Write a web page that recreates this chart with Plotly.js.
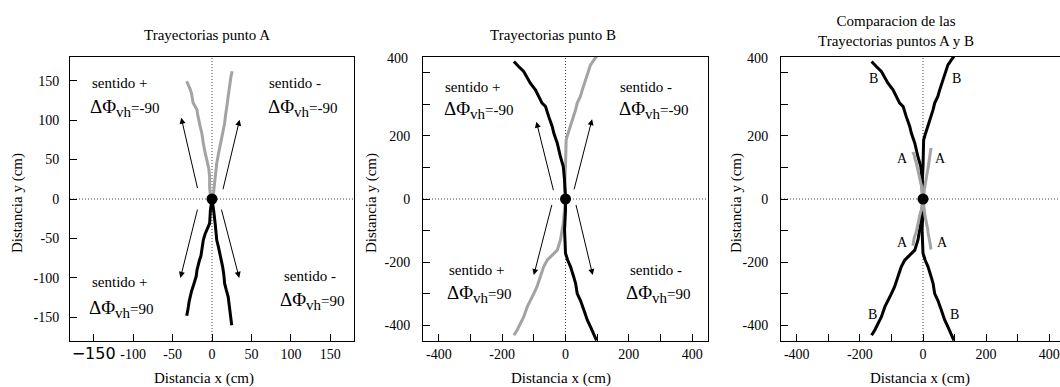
<!DOCTYPE html>
<html>
<head>
<meta charset="utf-8">
<script src="https://cdn.plot.ly/plotly-3.0.1.min.js"></script>
<style>
html, body { margin: 0; padding: 0; overflow: hidden; background: #fff; }
#chart { width: 1066px; height: 387px; }
</style>
</head>
<body>
<div id="chart"></div>
<script>
// ---------- Data: trajectories of point A (cm) ----------
const A_plusNeg90_x  = [0, -2, -3, -3, -4, -7, -9, -11, -12, -13, -15, -17, -18, -19, -22, -24, -25, -26, -28, -31, -32];
const A_plusNeg90_y  = [0, 4, 15, 28, 38, 50, 60, 71, 78, 84, 92, 100, 106, 113, 118, 122, 128, 134, 140, 146, 149];
const A_minusNeg90_x = [0, 2, 3, 4, 5, 6, 8, 10, 12, 13.5, 15, 16, 17, 18.5, 19.5, 20.5, 21.5, 22.5, 24, 25.5];
const A_minusNeg90_y = [0, 7, 18, 28, 36, 45, 56, 66, 76, 84, 90, 96, 105, 113, 122, 130, 139, 147, 155, 162];
const A_plus90_x     = [0, -1, -2, -3, -5, -7, -9, -11, -12, -13, -14, -16, -18, -19, -20, -22, -24, -26, -28, -29, -30, -31, -32];
const A_plus90_y     = [0, -6, -14, -31, -36, -39, -45, -52, -58, -65, -72, -78, -84, -90, -98, -106, -111, -117, -124, -130, -137, -142, -148];
const A_minus90_x    = [0, 1, 2, 4, 5, 6, 8, 10, 12, 13.5, 15, 16, 18, 20.5, 21.5, 22.5, 24, 25];
const A_minus90_y    = [0, -6, -14, -31, -42, -52, -60, -69, -78, -86, -96, -107, -115, -124, -132, -141, -150, -160];

// ---------- Data: trajectories of point B (cm) ----------
const B_plusNeg90_x  = [0, 0, -3, -7, -16, -26, -37, -42, -53, -63, -74, -84, -95, -111, -121, -132, -148, -163];
const B_plusNeg90_y  = [0, 7, 60, 103, 134, 177, 209, 230, 261, 293, 304, 325, 346, 367, 383, 404, 420, 436];
const B_minusNeg90_x = [0, -3, 0, 2, 5, 16, 21, 32, 37, 47, 53, 63, 69, 79, 90, 98];
const B_minusNeg90_y = [0, 39, 103, 187, 198, 230, 251, 283, 304, 325, 346, 378, 399, 425, 441, 452];
const B_plus90_x     = [0, -3, -7, -16, -26, -42, -58, -69, -79, -90, -100, -111, -121, -132, -142, -153, -163];
const B_plus90_y     = [0, -35, -77, -130, -162, -178, -194, -215, -247, -278, -300, -321, -342, -374, -395, -416, -432];
const B_minus90_x    = [0, 0, -3, 0, 7, 16, 26, 32, 37, 47, 58, 69, 79, 90, 98];
const B_minus90_y    = [0, -35, -98, -172, -194, -215, -247, -268, -300, -321, -352, -384, -405, -427, -448];

// ---------- Origin ----------
const originX = [0];
const originY = [0];

// ---------- Tick values / labels ----------
const ticksA = [-150, -100, -50, 0, 50, 100, 150];
const tickTextAx = ["<span style='font-family:DejaVu Sans;font-size:16px'>\u2212150</span>", "-100", "-50", "0", "50", "100", "150"];
const tickTextAy = ["-150", "-100", "-50", "0", "50", "100", "150"];
const ticksB = [-400, -300, -200, -100, 0, 100, 200, 300, 400];
const tickTextBx = ["-400", "", "-200", "", "0", "", "200", "", "400"];
const tickTextBy = ["-400", "", "-200", "", "0", "", "200", "", ""];
const topLabelB = "400";

// ---------- Texts ----------
const titles = ["Trayectorias punto A", "Trayectorias punto B", "Comparacion de las<br>Trayectorias puntos A y B"];
const xTitle = "Distancia x (cm)";
const yTitle = "Distancia y (cm)";
const sentidoPlus = "sentido +";
const sentidoMinus = "sentido -";
const phiNeg = "\u0394\u03a6<sub><span style='font-size:15px'>vh</span></sub><span style='font-size:15px'>=-90</span>";
const phiPos = "\u0394\u03a6<sub><span style='font-size:15px'>vh</span></sub><span style='font-size:15px'>=90</span>";

const GRAY = '#a3a3a3';
const BLACK = '#000000';
const FONT = 'Liberation Serif, Times New Roman, serif';
const W = 1066, H = 387;

function line(x, y, color, xa, ya) {
  return {x: x, y: y, type: 'scatter', mode: 'lines', xaxis: xa, yaxis: ya,
          line: {color: color, width: 3}, hoverinfo: 'skip', showlegend: false};
}
function dot(xa, ya) {
  return {x: originX, y: originY, type: 'scatter', mode: 'markers', xaxis: xa, yaxis: ya,
          marker: {color: BLACK, size: 11}, hoverinfo: 'skip', showlegend: false};
}

const traces = [
  // panel 1
  line(A_plusNeg90_x, A_plusNeg90_y, GRAY, 'x', 'y'),
  line(A_minusNeg90_x, A_minusNeg90_y, GRAY, 'x', 'y'),
  line(A_plus90_x, A_plus90_y, BLACK, 'x', 'y'),
  line(A_minus90_x, A_minus90_y, BLACK, 'x', 'y'),
  dot('x', 'y'),
  // panel 2
  line(B_minusNeg90_x, B_minusNeg90_y, GRAY, 'x2', 'y2'),
  line(B_plus90_x, B_plus90_y, GRAY, 'x2', 'y2'),
  line(B_plusNeg90_x, B_plusNeg90_y, BLACK, 'x2', 'y2'),
  line(B_minus90_x, B_minus90_y, BLACK, 'x2', 'y2'),
  dot('x2', 'y2'),
  // panel 3
  line(B_plusNeg90_x, B_plusNeg90_y, BLACK, 'x3', 'y3'),
  line(B_minusNeg90_x, B_minusNeg90_y, BLACK, 'x3', 'y3'),
  line(B_plus90_x, B_plus90_y, BLACK, 'x3', 'y3'),
  line(B_minus90_x, B_minus90_y, BLACK, 'x3', 'y3'),
  line(A_plusNeg90_x, A_plusNeg90_y, GRAY, 'x3', 'y3'),
  line(A_minusNeg90_x, A_minusNeg90_y, GRAY, 'x3', 'y3'),
  line(A_plus90_x, A_plus90_y, GRAY, 'x3', 'y3'),
  line(A_minus90_x, A_minus90_y, GRAY, 'x3', 'y3'),
  dot('x3', 'y3')
];

const yDom = [46 / H, 330 / H];
function axis(dom, range, tv, tt, standoff) {
  return {domain: dom, range: range, tickmode: 'array', tickvals: tv, ticktext: tt,
          ticks: 'inside', ticklen: 7, tickwidth: 1, tickcolor: BLACK,
          showline: true, linecolor: BLACK, linewidth: 1, mirror: true,
          showgrid: false, zeroline: false, fixedrange: true,
          ticklabelstandoff: standoff,
          tickfont: {family: FONT, size: 14, color: BLACK}};
}

const layout = {
  width: W, height: H,
  margin: {l: 0, r: 0, t: 0, b: 0},
  paper_bgcolor: '#fff', plot_bgcolor: '#fff',
  showlegend: false,
  font: {family: FONT, color: BLACK},
  xaxis:  axis([70 / W, 354 / W], [-180, 180], ticksA, tickTextAx, 0),
  yaxis:  axis(yDom, [-180, 180], ticksA, tickTextAy, 7),
  xaxis2: axis([423 / W, 708 / W], [-450, 450], ticksB, tickTextBx, 0),
  yaxis2: axis(yDom, [-450, 450], ticksB, tickTextBy, 9),
  xaxis3: axis([781 / W, 1065 / W], [-450, 450], ticksB, tickTextBx, 0),
  yaxis3: axis(yDom, [-450, 450], ticksB, tickTextBy, 9),
  shapes: [],
  annotations: []
};
layout.xaxis.anchor = 'y'; layout.yaxis.anchor = 'x';
layout.xaxis2.anchor = 'y2'; layout.yaxis2.anchor = 'x2';
layout.xaxis3.anchor = 'y3'; layout.yaxis3.anchor = 'x3';

// dotted zero lines
[['x', 'y', 180], ['x2', 'y2', 450], ['x3', 'y3', 450]].forEach(function (p) {
  const dash = '1px,2px';
  layout.shapes.push({type: 'line', xref: p[0], yref: p[1], x0: 0, x1: 0, y0: -p[2], y1: p[2],
                      line: {color: '#444', width: 1, dash: dash}, layer: 'below'});
  layout.shapes.push({type: 'line', xref: p[0], yref: p[1], x0: -p[2], x1: p[2], y0: 0, y1: 0,
                      line: {color: '#444', width: 1, dash: dash}, layer: 'below'});
});

const A = layout.annotations;
function paperText(text, px, py, size, extra) {
  const a = Object.assign({text: text, xref: 'paper', yref: 'paper', x: px / W, y: 1 - py / H,
            xanchor: 'center', yanchor: 'middle', showarrow: false,
            font: {family: FONT, size: size, color: BLACK}}, extra || {});
  A.push(a);
}
// titles
paperText(titles[0], 207, 35, 15);
paperText(titles[1], 553, 35, 15);
paperText(titles[2], 896, 31, 15);
// axis titles
paperText(xTitle, 204, 378, 15);
paperText(xTitle, 561, 378, 15);
paperText(xTitle, 920, 378, 15);
paperText(yTitle, 17, 203, 15, {textangle: -90});
paperText(yTitle, 371, 203, 15, {textangle: -90});
paperText(yTitle, 736, 203, 15, {textangle: -90});
// misplaced top "400" labels
paperText(topLabelB, 410, 58, 14, {xanchor: 'right'});
paperText(topLabelB, 770, 58, 14, {xanchor: 'right'});

function dataText(text, xa, ya, x, y, size, anchor) {
  A.push({text: text, xref: xa, yref: ya, x: x, y: y, xanchor: anchor || 'left', yanchor: 'middle',
          showarrow: false, font: {family: FONT, size: size, color: BLACK}});
}
// panel 1 labels
dataText(sentidoPlus, 'x', 'y', -155, 147, 15);
dataText(phiNeg, 'x', 'y', -157, 115, 19);
dataText(sentidoMinus, 'x', 'y', 70, 147, 15);
dataText(phiNeg, 'x', 'y', 69, 115, 19);
dataText(sentidoPlus, 'x', 'y', -155, -105, 15);
dataText(phiPos, 'x', 'y', -159, -140, 19);
dataText(sentidoMinus, 'x', 'y', 89, -98, 15);
dataText(phiPos, 'x', 'y', 84, -129, 19);
// panel 2 labels
dataText(sentidoPlus, 'x2', 'y2', -387, 355, 15);
dataText(phiNeg, 'x2', 'y2', -389, 283, 19);
dataText(sentidoMinus, 'x2', 'y2', 166, 355, 15);
dataText(phiNeg, 'x2', 'y2', 164, 283, 19);
dataText(sentidoPlus, 'x2', 'y2', -374, -225, 15);
dataText(phiPos, 'x2', 'y2', -382, -300, 19);
dataText(sentidoMinus, 'x2', 'y2', 197, -225, 15);
dataText(phiPos, 'x2', 'y2', 186, -300, 19);
// panel 3 labels
dataText('B', 'x3', 'y3', -158, 381, 14, 'center');
dataText('B', 'x3', 'y3', 107, 381, 14, 'center');
dataText('A', 'x3', 'y3', -64, 129, 14, 'center');
dataText('A', 'x3', 'y3', 57, 129, 14, 'center');
dataText('A', 'x3', 'y3', -64, -137, 14, 'center');
dataText('A', 'x3', 'y3', 61, -137, 14, 'center');
dataText('B', 'x3', 'y3', -160, -366, 14, 'center');
dataText('B', 'x3', 'y3', 99, -366, 14, 'center');

// arrows: [tailX, tailY, headX, headY]
const arrowsA = [[-18, 12, -39, 103], [13.5, 10.5, 35, 100.5], [-18, -11.5, -40, -100], [11.5, -11.5, 34.5, -100]];
const arrowsB = [[-37, 23, -92, 245], [26, 26, 84, 253], [-42, -14, -100, -241], [32, -14, 86, -241]];
function addArrows(list, xa, ya) {
  list.forEach(function (a) {
    A.push({text: '', xref: xa, yref: ya, axref: xa, ayref: ya, x: a[2], y: a[3], ax: a[0], ay: a[1],
            showarrow: true, arrowhead: 2, arrowsize: 1.2, arrowwidth: 1, arrowcolor: BLACK, standoff: 0});
  });
}
addArrows(arrowsA, 'x', 'y');
addArrows(arrowsB, 'x2', 'y2');

Plotly.newPlot('chart', traces, layout, {staticPlot: true, displayModeBar: false});
</script>
</body>
</html>
